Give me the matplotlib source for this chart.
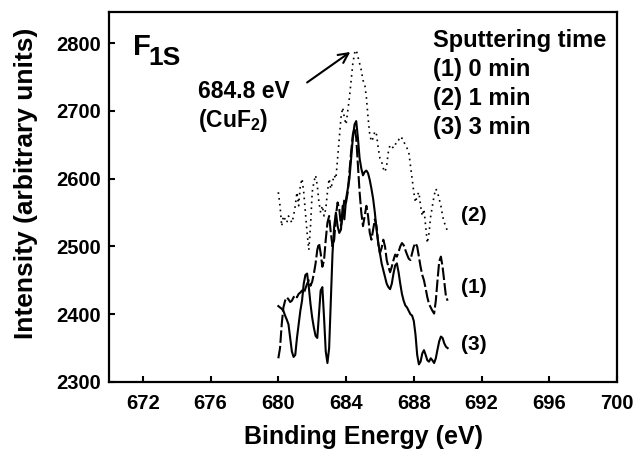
import numpy as np
import matplotlib
matplotlib.use("Agg")
import matplotlib.pyplot as plt

plt.rcParams['font.family'] = ['Liberation Sans', 'DejaVu Sans']
plt.rcParams['font.weight'] = 'bold'
plt.rcParams['mathtext.fontset'] = 'custom'
plt.rcParams['mathtext.rm'] = 'Liberation Sans:bold'
plt.rcParams['mathtext.bf'] = 'Liberation Sans:bold'
plt.rcParams['mathtext.it'] = 'Liberation Sans:bold'

# binding energy grid of the spectra (eV)
energy = np.linspace(680.0, 690.0, 101)

# (2) 1 min sputtering, dotted
counts_1min = [
    2580, 2560, 2530, 2545, 2540, 2535, 2545, 2540, 2535, 2545,
    2560, 2580, 2560, 2590, 2600, 2580, 2550, 2520, 2495, 2530,
    2580, 2595, 2605, 2590, 2565, 2550, 2560, 2545, 2555, 2580,
    2600, 2585, 2595, 2605, 2600, 2630, 2660, 2690, 2705, 2690,
    2680, 2700, 2720, 2745, 2770, 2785, 2790, 2780, 2770, 2760,
    2745, 2740, 2720, 2690, 2665, 2655, 2660, 2670, 2665, 2645,
    2630, 2625, 2615, 2610, 2620, 2640, 2650, 2648, 2645, 2650,
    2655, 2658, 2655, 2660, 2655, 2650, 2645, 2640, 2620, 2600,
    2580, 2565, 2575, 2580, 2560, 2545, 2555, 2530, 2505, 2520,
    2545, 2560, 2575, 2585, 2580, 2570, 2560, 2545, 2535, 2530,
    2520,
]

# (1) 0 min sputtering, dashed
counts_0min = [
    2335, 2350, 2385, 2410, 2420, 2425, 2422, 2418, 2420, 2425,
    2428, 2425, 2430, 2432, 2435, 2430, 2438, 2445, 2450, 2442,
    2448, 2460, 2475, 2495, 2505, 2490, 2470, 2480, 2510, 2535,
    2545, 2520, 2500, 2510, 2545, 2565, 2555, 2530, 2545, 2570,
    2565, 2580, 2610, 2640, 2665, 2675, 2660, 2620, 2580, 2550,
    2530, 2545, 2560, 2545, 2520, 2510, 2525, 2540, 2530, 2505,
    2490, 2498, 2510, 2500, 2480, 2470, 2462, 2470, 2480, 2488,
    2485, 2492, 2500, 2505, 2502, 2495, 2488, 2482, 2480, 2490,
    2500, 2505, 2500, 2485, 2470, 2458, 2450, 2438, 2425, 2415,
    2410, 2405, 2401, 2420, 2450, 2478, 2485, 2470, 2448, 2426,
    2420,
]

# (3) 3 min sputtering, solid
counts_3min = [
    2412, 2410, 2408, 2405, 2398, 2392, 2385, 2365, 2345, 2337,
    2340, 2365, 2385, 2405, 2420, 2445, 2458, 2460, 2440, 2415,
    2395, 2380, 2368, 2365, 2400, 2435, 2440, 2395, 2345, 2328,
    2350, 2420, 2490, 2530, 2550, 2530, 2520, 2525, 2560, 2540,
    2570, 2585, 2600, 2630, 2660, 2680, 2685, 2660, 2630, 2615,
    2605, 2610, 2612, 2608, 2598, 2585, 2570, 2550, 2525, 2505,
    2490, 2475, 2465, 2455, 2445, 2440, 2437, 2445, 2460, 2472,
    2475, 2462, 2445, 2430, 2420, 2413, 2410, 2405, 2400, 2398,
    2390, 2370, 2340, 2326, 2330, 2342, 2347, 2340, 2332, 2330,
    2335, 2332, 2328, 2335, 2348, 2360, 2367, 2365, 2357, 2352,
    2350,
]

legend_lines = ['Sputtering time', '(1) 0 min', '(2) 1 min', '(3) 3 min']
xticks = [672, 676, 680, 684, 688, 692, 696, 700]
yticks = [2300, 2400, 2500, 2600, 2700, 2800]

fig = plt.figure(figsize=(6.34, 4.65), dpi=100)
ax = fig.add_axes([0.1719, 0.1785, 0.8013, 0.7957])

ax.plot(energy, counts_1min, color='black', lw=1.2, linestyle=(0, (1, 2.5)))
ax.plot(energy, counts_0min, color='black', lw=1.5, linestyle=(0, (6, 1.5)))
ax.plot(energy, counts_3min, color='black', lw=1.5)

ax.set_xlim(670, 700)
ax.set_ylim(2300, 2846)
ax.set_xticks(xticks)
ax.set_yticks(yticks)
ax.tick_params(direction='in', length=4, width=1.5, labelsize=14.5, top=False, right=False)
ax.tick_params(axis='x', pad=9)
ax.tick_params(axis='y', pad=6)
for s in ax.spines.values():
    s.set_linewidth(1.6)

fig.text(26 / 634, 1 - 183 / 465, 'Intensity (arbitrary units)', rotation=90,
         ha='center', va='center', fontsize=19, fontweight='bold')
fig.text(364 / 634, 1 - 437 / 465, 'Binding Energy (eV)',
         ha='center', va='center', fontsize=18, fontweight='bold')

# F1s label
ax.text(671.42, 2782, 'F', fontsize=21, va='baseline')
ax.text(672.3, 2768, '1S', fontsize=19, va='baseline')

# peak annotation
ax.text(675.25, 2719, '684.8 eV', fontsize=16.5, va='baseline')
ax.text(675.25, 2676, '(CuF$_2$)', fontsize=16.5, va='baseline')
ax.annotate('', xy=(684.25, 2787), xytext=(681.7, 2742),
            arrowprops=dict(arrowstyle='->,head_length=0.7,head_width=0.35',
                            lw=1.5, color='black', shrinkA=0, shrinkB=0))

# sputtering time legend
for i, line in enumerate(legend_lines):
    ax.text(689.14, 2794 - i * 42.5, line, fontsize=17, va='baseline')

# curve labels
ax.text(690.8, 2546, '(2)', fontsize=15, va='center')
ax.text(690.8, 2439, '(1)', fontsize=15, va='center')
ax.text(690.8, 2355, '(3)', fontsize=15, va='center')

fig.savefig('out.png', dpi=100)
